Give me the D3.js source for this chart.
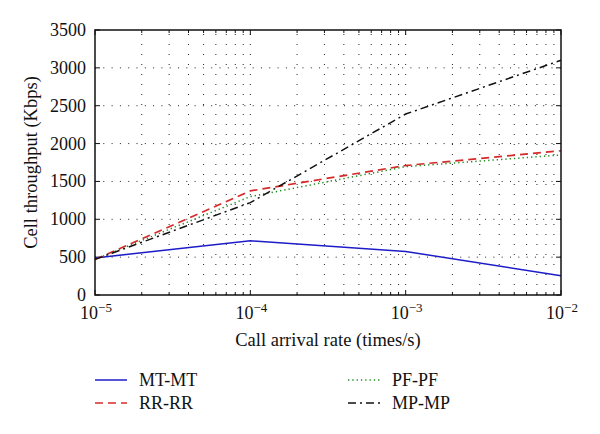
<!DOCTYPE html>
<html><head><meta charset="utf-8">
<script src="https://cdn.jsdelivr.net/npm/d3@7"></script>
<style>
html,body{margin:0;padding:0;background:#fff;}
svg{display:block;}
</style></head>
<body>
<svg id="chart" width="600" height="434"></svg>
<script>
const rates = [1e-5, 1e-4, 1e-3, 1e-2];
const mtmt = [490, 715, 575, 255];
const rrrr = [470, 1375, 1710, 1905];
const pfpf = [470, 1300, 1695, 1850];
const mpmp = [470, 1220, 2390, 3100];
const yTicks = [0, 500, 1000, 1500, 2000, 2500, 3000, 3500];
const xDecades = [1e-5, 1e-4, 1e-3, 1e-2];
const xExponents = ["−5", "−4", "−3", "−2"];
const seriesNames = ["MT-MT", "RR-RR", "PF-PF", "MP-MP"];

const FONT = "'Liberation Serif', 'DejaVu Serif', 'Times New Roman', serif";
const svg = d3.select("#chart").attr("font-family", FONT);
const L = 95, R = 561, T = 30, B = 295;
const x = d3.scaleLog().domain([1e-5, 1e-2]).range([L, R]);
const y = d3.scaleLinear().domain([0, 3500]).range([B, T]);

const minors = [];
xDecades.slice(0, 3).forEach(d => { for (let k = 2; k <= 9; k++) minors.push(d * k); });

const grid = svg.append("g");
grid.selectAll("line.v").data(minors.concat(xDecades.slice(1, 3))).enter().append("line")
  .attr("x1", d => x(d)).attr("x2", d => x(d)).attr("y1", B).attr("y2", T)
  .attr("stroke", "#222").attr("stroke-width", 1).attr("stroke-dasharray", "1,9");
grid.selectAll("line.h").data(yTicks.slice(1, -1)).enter().append("line")
  .attr("x1", L).attr("x2", R).attr("y1", d => y(d)).attr("y2", d => y(d))
  .attr("stroke", "#222").attr("stroke-width", 1).attr("stroke-dasharray", "1,7.3");

const ticks = svg.append("g").attr("stroke", "#111").attr("stroke-width", 1);
xDecades.forEach(d => {
  ticks.append("line").attr("x1", x(d)).attr("x2", x(d)).attr("y1", B).attr("y2", B - 5);
  ticks.append("line").attr("x1", x(d)).attr("x2", x(d)).attr("y1", T).attr("y2", T + 5);
});
minors.forEach(d => {
  ticks.append("line").attr("x1", x(d)).attr("x2", x(d)).attr("y1", B).attr("y2", B - 3);
  ticks.append("line").attr("x1", x(d)).attr("x2", x(d)).attr("y1", T).attr("y2", T + 3);
});
yTicks.forEach(d => {
  ticks.append("line").attr("x1", L).attr("x2", L + 5).attr("y1", y(d)).attr("y2", y(d));
  ticks.append("line").attr("x1", R).attr("x2", R - 5).attr("y1", y(d)).attr("y2", y(d));
});

const line = d3.line().x((d, i) => x(rates[i])).y(d => y(d));
const styles = [
  {data: mtmt, color: "#1c1cc8", dash: null, w: 1.5},
  {data: rrrr, color: "#d62a2a", dash: "8,5", w: 1.7},
  {data: pfpf, color: "#1f8a1f", dash: "1.3,3", w: 1.5},
  {data: mpmp, color: "#111", dash: "8,4,2,4", w: 1.5}
];
styles.forEach(s => {
  svg.append("path").datum(s.data).attr("d", line).attr("fill", "none")
    .attr("stroke", s.color).attr("stroke-width", s.w)
    .attr("stroke-dasharray", s.dash);
});

svg.append("rect").attr("x", L).attr("y", T).attr("width", R - L).attr("height", B - T)
  .attr("fill", "none").attr("stroke", "#111").attr("stroke-width", 1.5);

svg.append("g").selectAll("text").data(yTicks).enter().append("text")
  .attr("x", L - 9).attr("y", d => y(d) + 6).attr("text-anchor", "end")
  .attr("font-size", 18).attr("fill", "#111").text(d => d);

xDecades.forEach((d, i) => {
  const t = svg.append("text").attr("x", x(d) + 1).attr("y", 319)
    .attr("text-anchor", "middle").attr("font-size", 18).attr("fill", "#111");
  t.append("tspan").text("10");
  t.append("tspan").attr("dy", -7).attr("font-size", 13).text(xExponents[i]);
});

svg.append("text").attr("x", (L + R) / 2).attr("y", 346).attr("text-anchor", "middle")
  .attr("font-size", 18.5).attr("fill", "#111").text("Call arrival rate (times/s)");
svg.append("text").attr("transform", `translate(37,${(T + B) / 2}) rotate(-90)`)
  .attr("text-anchor", "middle").attr("font-size", 18.5).attr("fill", "#111").text("Cell throughput (Kbps)");

const legPos = [[95, 380], [95, 403], [348, 380], [348, 403]];
styles.forEach((s, i) => {
  const [lx, ly] = legPos[i];
  svg.append("line").attr("x1", lx).attr("x2", lx + 32).attr("y1", ly).attr("y2", ly)
    .attr("stroke", s.color).attr("stroke-width", s.w).attr("stroke-dasharray", s.dash);
  svg.append("text").attr("x", lx + 44).attr("y", ly + 6).attr("font-size", 18)
    .attr("fill", "#111").text(seriesNames[i]);
});
</script>
</body></html>
